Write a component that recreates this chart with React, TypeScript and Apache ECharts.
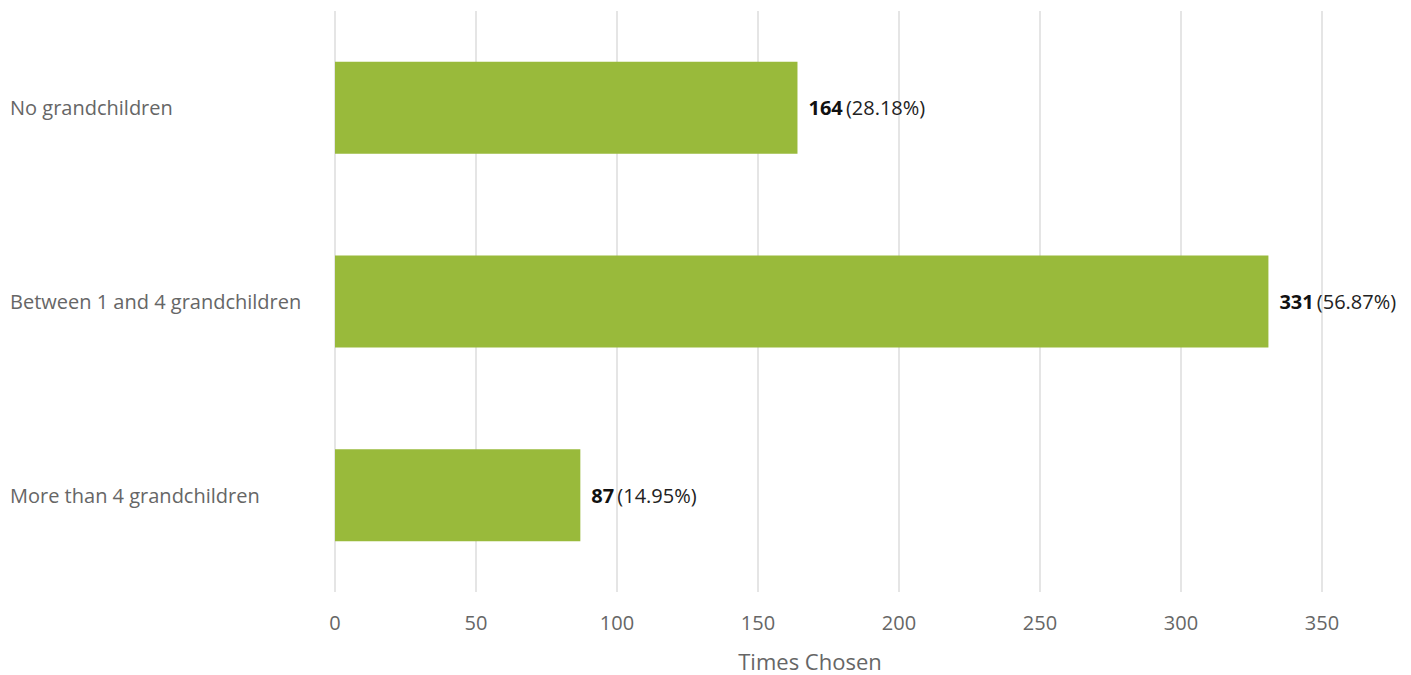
import React, { useEffect, useRef } from "react";
import * as echarts from "echarts";

const categories = ["No grandchildren", "Between 1 and 4 grandchildren", "More than 4 grandchildren"];
const counts = [164, 331, 87];
const percents = ["28.18%", "56.87%", "14.95%"];
const xTicks = { min: 0, max: 350, interval: 50 };
const axisTitle = "Times Chosen";

export default function App() {
  const ref = useRef<HTMLDivElement>(null);
  useEffect(() => {
    document.body.style.margin = "0";
    const chart = echarts.init(ref.current!, null, { renderer: "svg" });
    chart.setOption({
      animation: false,
      textStyle: { fontFamily: "Open Sans" },
      grid: { left: 335, right: 89, top: 11, bottom: 83, containLabel: false },
      xAxis: {
        type: "value",
        min: xTicks.min,
        max: xTicks.max,
        interval: xTicks.interval,
        axisLine: { show: false },
        axisTick: { show: false },
        splitLine: { show: true, lineStyle: { color: "#e5e5e5", width: 2 } },
        axisLabel: { color: "#666", fontSize: 20, margin: 20, fontFamily: "Open Sans" },
      },
      yAxis: {
        type: "category",
        data: categories,
        inverse: true,
        axisLine: { show: false },
        axisTick: { show: false },
        splitLine: { show: false },
        axisLabel: {
          color: "#666",
          fontSize: 20,
          align: "left",
          margin: 325,
          fontFamily: "Open Sans",
        },
      },
      series: [
        {
          type: "bar",
          data: counts,
          barWidth: 92,
          itemStyle: { color: "#99ba3b" },
          label: {
            show: true,
            position: "right",
            distance: 11,
            formatter: (p: any) => `{b|${p.value}} {n|(${percents[p.dataIndex]})}`,
            rich: {
              b: { fontWeight: "bold", fontSize: 20, color: "#111", fontFamily: "Open Sans" },
              n: { fontSize: 20, color: "#222", fontFamily: "Open Sans" },
            },
          },
        },
      ],
      graphic: [
        {
          type: "text",
          x: 810,
          y: 661,
          style: {
            text: axisTitle,
            fontSize: 22,
            fill: "#666",
            fontFamily: "Open Sans",
            textAlign: "center",
            textVerticalAlign: "middle",
          },
        },
      ],
    });
    return () => chart.dispose();
  }, []);
  return <div ref={ref} style={{ width: 1411, height: 675 }} />;
}
